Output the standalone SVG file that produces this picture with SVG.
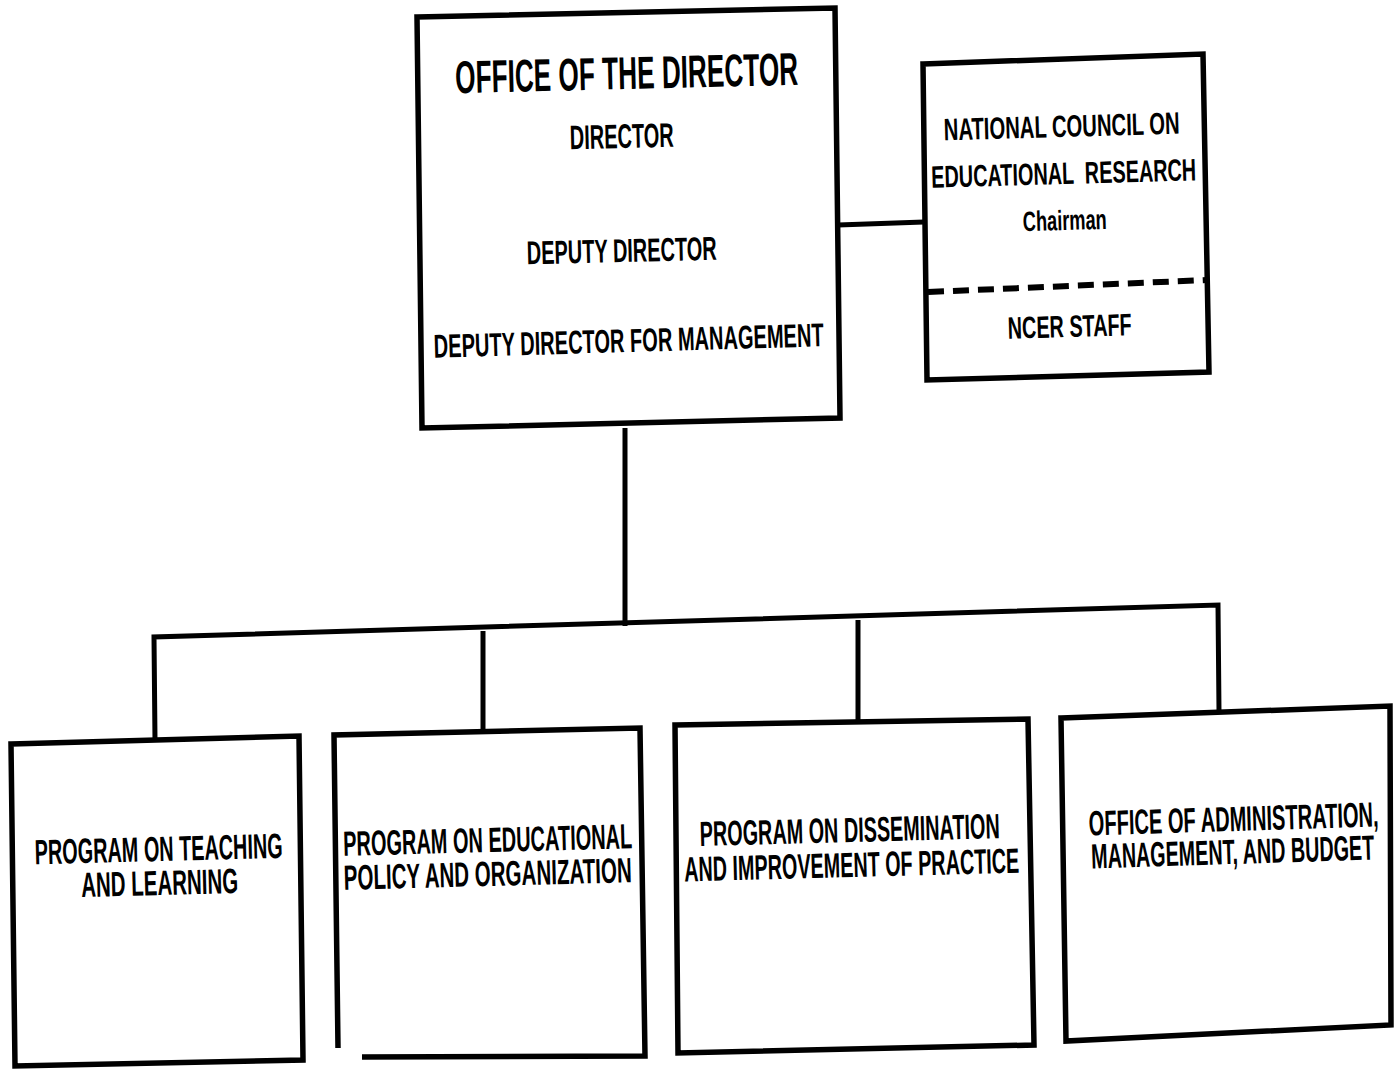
<svg xmlns="http://www.w3.org/2000/svg" width="1394" height="1069" viewBox="0 0 1394 1069">
<style>
.box{fill:#fff;stroke:#000;stroke-width:5.5;stroke-linejoin:miter}
.ln{fill:none;stroke:#000;stroke-width:5}
.t{font-family:"Liberation Sans",Arial,sans-serif;font-weight:bold;fill:#000;text-anchor:middle;white-space:pre}
</style>
<rect width="1394" height="1069" fill="#fff"/>
<g id="connectors">
<line class="ln" x1="838" y1="225" x2="924" y2="222"/>
<line class="ln" x1="625" y1="428" x2="625" y2="626"/>
<polyline class="ln" points="155,740 154,637 1218,605 1219,711"/>
<line class="ln" x1="483" y1="631" x2="483" y2="731"/>
<line class="ln" x1="858" y1="620" x2="858" y2="723"/>
</g>
<g id="director">
<polygon class="box" points="417,17 835,8 840,418 422,428"/>
<text class="t" font-size="46" transform="rotate(-1.4 627 89)" x="627" y="89" textLength="343" lengthAdjust="spacingAndGlyphs">OFFICE OF THE DIRECTOR</text>
<text class="t" font-size="34" transform="rotate(-1.4 622 148)" x="622" y="148" textLength="104" lengthAdjust="spacingAndGlyphs">DIRECTOR</text>
<text class="t" font-size="33" transform="rotate(-1.4 622 262)" x="622" y="262" textLength="190" lengthAdjust="spacingAndGlyphs">DEPUTY DIRECTOR</text>
<text class="t" font-size="33" transform="rotate(-1.7 629 352)" x="629" y="352" textLength="390" lengthAdjust="spacingAndGlyphs">DEPUTY DIRECTOR FOR MANAGEMENT</text>
</g>
<g id="ncer">
<polygon class="box" points="923,64 1203,54 1209,372 927,380"/>
<line x1="928" y1="292" x2="1207" y2="280" stroke="#000" stroke-width="6" stroke-dasharray="16,9"/>
<text class="t" font-size="31" transform="rotate(-1.6 1062 137)" x="1062" y="137" textLength="236" lengthAdjust="spacingAndGlyphs">NATIONAL COUNCIL ON</text>
<text class="t" font-size="31" transform="rotate(-1.6 1064 184)" x="1064" y="184" textLength="265" lengthAdjust="spacingAndGlyphs" xml:space="preserve">EDUCATIONAL  RESEARCH</text>
<text class="t" font-size="28" transform="rotate(-1.6 1065 230)" x="1065" y="230" textLength="84" lengthAdjust="spacingAndGlyphs">Chairman</text>
<text class="t" font-size="31" transform="rotate(-1.6 1070 337)" x="1070" y="337" textLength="124" lengthAdjust="spacingAndGlyphs">NCER STAFF</text>
</g>
<g id="teaching">
<polygon class="box" points="11,744 299,736 303,1060 15,1066"/>
<text class="t" font-size="35" transform="rotate(-1.5 159 861)" x="159" y="861" textLength="248" lengthAdjust="spacingAndGlyphs">PROGRAM ON TEACHING</text>
<text class="t" font-size="35" transform="rotate(-1.5 160 895)" x="160" y="895" textLength="157" lengthAdjust="spacingAndGlyphs">AND LEARNING</text>
</g>
<g id="policy">
<polyline class="box" style="fill:none" points="338,1048 334,735 640,728 645,1056 362,1057"/>
<text class="t" font-size="35" transform="rotate(-1.5 488 852)" x="488" y="852" textLength="289" lengthAdjust="spacingAndGlyphs">PROGRAM ON EDUCATIONAL</text>
<text class="t" font-size="35" transform="rotate(-1.5 488 886)" x="488" y="886" textLength="288" lengthAdjust="spacingAndGlyphs">POLICY AND ORGANIZATION</text>
</g>
<g id="dissemination">
<polygon class="box" points="675,725 1028,719 1034,1045 678,1053"/>
<text class="t" font-size="35" transform="rotate(-1.5 850 842)" x="850" y="842" textLength="300" lengthAdjust="spacingAndGlyphs">PROGRAM ON DISSEMINATION</text>
<text class="t" font-size="35" transform="rotate(-1.5 852 877)" x="852" y="877" textLength="335" lengthAdjust="spacingAndGlyphs">AND IMPROVEMENT OF PRACTICE</text>
</g>
<g id="administration">
<polygon class="box" points="1061,718 1390,706 1391,1025 1066,1041"/>
<text class="t" font-size="35" transform="translate(1234 831) rotate(-1.8) scale(0.574 1)" x="0" y="0">OFFICE OF ADMINISTRATION,</text>
<text class="t" font-size="35" transform="translate(1233 864) rotate(-1.8) scale(0.564 1)" x="0" y="0">MANAGEMENT, AND BUDGET</text>
</g>
</svg>
